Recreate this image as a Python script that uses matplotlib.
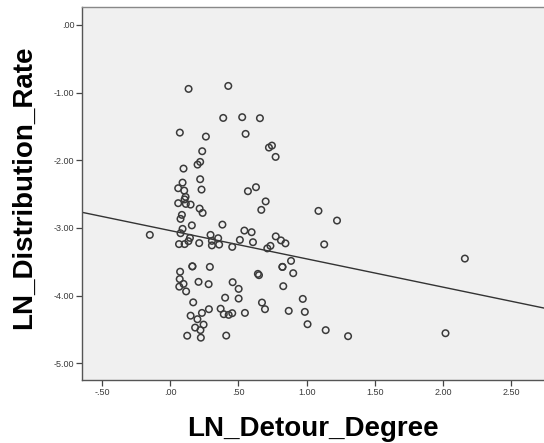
import numpy as np
import matplotlib.pyplot as plt
from matplotlib.ticker import FuncFormatter

plt.rcParams['font.family'] = ['Liberation Sans', 'DejaVu Sans']

# LN_Detour_Degree values
detour = [0.135, 0.426, 0.389, 0.528, 0.658, 0.071, 0.262, 0.553, 0.724, 0.746,
          0.773, 0.235, 0.220, 0.201, 0.098, 0.220, 0.091, 0.230, 0.059, 0.103,
          0.113, 0.106, 0.570, 0.629, 0.700, 0.059, 0.115, 0.150, 0.216, 0.238,
          0.668, 1.087, 0.086, 0.076, 0.159, 0.383, -0.149, 0.091, 0.076, 0.544,
          0.597, 0.296, 0.352, 0.306, 0.145, 0.134, 0.106, 0.065, 0.213, 0.306,
          0.359, 0.455, 0.511, 0.607, 0.774, 0.812, 0.845, 0.735, 0.712, 0.886,
          0.902, 0.823, 0.823, 0.163, 0.163, 0.291, 0.643, 0.651, 0.073, 0.070,
          0.098, 0.067, 0.117, 0.208, 0.282, 0.458, 0.502, 0.829, 0.403, 0.502,
          0.972, 0.169, 0.284, 0.370, 0.393, 0.429, 0.455, 0.548, 0.673, 0.695,
          0.869, 0.987, 0.233, 0.150, 0.200, 0.245, 0.183, 0.222, 1.007, 0.125,
          0.225, 0.411, 1.223, 1.129, 2.160, 1.140, 1.304, 2.018]

# LN_Distribution_Rate values
distribution = [-0.946, -0.902, -1.375, -1.364, -1.379, -1.592, -1.651, -1.611, -1.813, -1.784,
                -1.951, -1.867, -2.025, -2.065, -2.124, -2.281, -2.331, -2.434, -2.414, -2.449,
                -2.542, -2.579, -2.458, -2.399, -2.609, -2.635, -2.646, -2.656, -2.715, -2.779,
                -2.734, -2.749, -2.808, -2.867, -2.963, -2.952, -3.104, -3.015, -3.079, -3.040,
                -3.064, -3.104, -3.153, -3.192, -3.148, -3.197, -3.240, -3.240, -3.225, -3.259,
                -3.247, -3.281, -3.178, -3.212, -3.126, -3.185, -3.229, -3.266, -3.303, -3.488,
                -3.670, -3.577, -3.577, -3.569, -3.569, -3.577, -3.680, -3.699, -3.648, -3.757,
                -3.828, -3.869, -3.939, -3.798, -3.832, -3.803, -3.902, -3.862, -4.032, -4.045,
                -4.050, -4.101, -4.202, -4.195, -4.276, -4.286, -4.261, -4.257, -4.104, -4.202,
                -4.227, -4.242, -4.257, -4.298, -4.350, -4.430, -4.474, -4.511, -4.424, -4.594,
                -4.623, -4.592, -2.892, -3.244, -3.454, -4.512, -4.601, -4.557]

# fit line
intercept = -3.04
slope = -0.418

x_ticks = [-0.5, 0.0, 0.5, 1.0, 1.5, 2.0, 2.5]
y_ticks = [0.0, -1.0, -2.0, -3.0, -4.0, -5.0]


def spss_fmt(v, pos):
    s = '%.2f' % v
    s = s.replace('0.', '.', 1) if s.startswith('0.') else s.replace('-0.', '-.', 1)
    return s


fig = plt.figure(figsize=(5.44, 4.43), dpi=100)
ax = fig.add_axes([0.151, 0.142, 0.849, 0.8415])
ax.set_facecolor('#f0f0f0')

ax.scatter(detour, distribution, s=22, facecolors='none', edgecolors='#3a3a3a',
           linewidths=1.1, zorder=3)

xl = (-0.645, 2.74)
xs = np.array(xl)
ax.plot(xs, intercept + slope * xs, color='#333333', lw=1.0, zorder=2)

ax.set_xlim(*xl)
ax.set_ylim(-5.25, 0.26)
ax.set_xticks(x_ticks)
ax.set_yticks(y_ticks)
ax.xaxis.set_major_formatter(FuncFormatter(spss_fmt))
ax.yaxis.set_major_formatter(FuncFormatter(spss_fmt))
ax.tick_params(axis='both', direction='out', length=4, width=0.9, color='#444444',
               labelsize=6.5, labelcolor='#3a3a3a', pad=1.5)
ax.tick_params(top=False, right=False)

for side in ['left', 'bottom']:
    ax.spines[side].set_color('#555555')
    ax.spines[side].set_linewidth(1.0)
ax.spines['top'].set_color('#888888')
ax.spines['top'].set_linewidth(1.0)
ax.spines['right'].set_visible(False)

ax.set_xlabel('LN_Detour_Degree', fontsize=20, fontweight='bold', labelpad=14)
ax.set_ylabel('LN_Distribution_Rate', fontsize=20, fontweight='bold')
ax.yaxis.set_label_coords(-0.097, 0.517)

fig.savefig('out.png', dpi=100)
